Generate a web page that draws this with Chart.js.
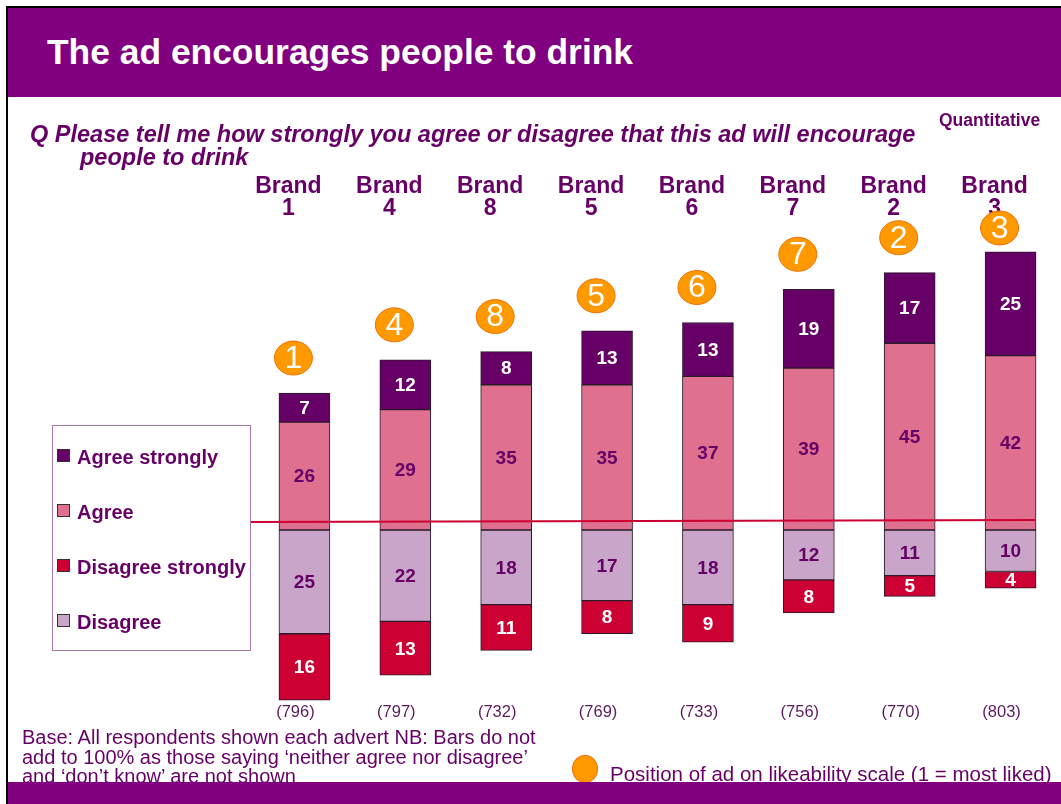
<!DOCTYPE html>
<html>
<head>
<meta charset="utf-8">
<script src="https://cdn.jsdelivr.net/npm/chart.js@4.4.0/dist/chart.umd.min.js"></script>
<style>
body { margin: 0; background: #fff; font-family: "Liberation Sans", Arial, sans-serif; }
#page { position: relative; width: 1061px; height: 804px; overflow: hidden; background: #fff; }
#frameTop { position: absolute; left: 6px; top: 6px; right: 0; height: 2px; background: #000; }
#frameLeft { position: absolute; left: 6px; top: 6px; width: 2px; bottom: 0; background: #000; }
#header { position: absolute; left: 8px; top: 8px; right: 0; height: 89px; background: #800080; }
#header h1 { margin: 0; position: absolute; left: 39px; top: 23px; color: #fff; font-size: 35.4px; font-weight: bold; line-height: 42px; }
#question { position: absolute; left: 30px; top: 123px; color: #660066; font-size: 23.5px; font-weight: bold; font-style: italic; line-height: 23px; white-space: nowrap; }
#question span { display: block; padding-left: 50px; }
#quant { position: absolute; left: 939px; top: 110px; color: #660066; font-size: 17.5px; font-weight: bold; }
#legend { position: absolute; left: 52px; top: 425px; width: 197px; height: 224px; border: 1px solid #a878a8; }
.item { position: absolute; left: 4px; color: #660066; font-size: 20px; font-weight: bold; line-height: 22px; white-space: nowrap; }
.item i { display: inline-block; width: 11px; height: 11px; border: 1px solid #333; margin-right: 7px; vertical-align: 2px; }
#note { position: absolute; left: 22px; top: 728px; color: #660066; font-size: 20px; line-height: 19.5px; white-space: nowrap; }
#key { position: absolute; left: 610px; top: 762px; color: #660066; font-size: 20.5px; white-space: nowrap; }
#keyDot { position: absolute; left: 572px; top: 755px; width: 26px; height: 28px; border-radius: 50%; background: #ff9900; border: 1px solid #f07000; box-sizing: border-box; }
#footer { position: absolute; left: 8px; top: 782px; right: 0; bottom: 0; background: #800080; }
canvas { position: absolute; left: 0; top: 0; }
</style>
</head>
<body>
<div id="page">
  <canvas id="chart" width="1061" height="804"></canvas>
  <div id="header"><h1>The ad encourages people to drink</h1></div>
  <div id="frameTop"></div>
  <div id="frameLeft"></div>
  <div id="quant">Quantitative</div>
  <div id="question">Q Please tell me how strongly you agree or disagree that this ad will encourage<span>people to drink</span></div>
  <div id="legend">
    <div class="item" style="top:20px"><i style="background:#660066"></i>Agree strongly</div>
    <div class="item" style="top:75px"><i style="background:#e07090"></i>Agree</div>
    <div class="item" style="top:130px"><i style="background:#cc0033"></i>Disagree strongly</div>
    <div class="item" style="top:185px"><i style="background:#c9a6c9"></i>Disagree</div>
  </div>
  <div id="note">Base: All respondents shown each advert NB: Bars do not<br>add to 100% as those saying ‘neither agree nor disagree’<br>and ‘don’t know’ are not shown</div>
  <div id="keyDot"></div>
  <div id="key">Position of ad on likeability scale (1 = most liked)</div>
  <div id="footer"></div>
</div>
<script>
// brands in the order shown, left to right
const brands = ["1", "4", "8", "5", "6", "7", "2", "3"];
const agreeStrongly = [7, 12, 8, 13, 13, 19, 17, 25];
const agree = [26, 29, 35, 35, 37, 39, 45, 42];
const disagree = [25, 22, 18, 17, 18, 12, 11, 10];
const disagreeStrongly = [16, 13, 11, 8, 9, 8, 5, 4];
const bases = [796, 797, 732, 769, 733, 756, 770, 803];
const likeRank = [1, 4, 8, 5, 6, 7, 2, 3];
// red reference line, value at left and right end
const refLine = [1.9, 2.3];

const purple = "#660066";

const decorations = {
    id: "decorations",
    afterDatasetsDraw(chart) {
        const ctx = chart.ctx;
        const x = chart.scales.x;
        const y = chart.scales.y;
        const area = chart.chartArea;
        ctx.save();

        // value inside each segment
        ctx.textAlign = "center";
        ctx.textBaseline = "middle";
        chart.data.datasets.forEach((ds, d) => {
            chart.getDatasetMeta(d).data.forEach((bar, i) => {
                ctx.font = "bold 19px 'Liberation Sans', Arial";
                ctx.fillStyle = ds.labelColor;
                ctx.fillText(Math.abs(ds.data[i]), bar.x, (bar.y + bar.base) / 2 + 1);
            });
        });

        // thin red line drawn across the bars
        ctx.strokeStyle = "#cc0033";
        ctx.lineWidth = 2;
        ctx.beginPath();
        ctx.moveTo(area.left - 4, Math.round(y.getPixelForValue(refLine[0])));
        ctx.lineTo(area.right - 26, Math.round(y.getPixelForValue(refLine[1])));
        ctx.stroke();

        brands.forEach((b, i) => {
            const cx = x.getPixelForValue(i);

            // brand name above
            ctx.fillStyle = purple;
            ctx.font = "bold 23px 'Liberation Sans', Arial";
            ctx.fillText("Brand", cx - 16, 187);
            ctx.fillText(b, cx - 16, 209);

            // likeability rank bubble
            const top = y.getPixelForValue(agree[i] + agreeStrongly[i]);
            const cy = Math.max(top - 35, 228);
            ctx.beginPath();
            ctx.ellipse(cx - 11, cy, 19, 17, 0, 0, Math.PI * 2);
            ctx.fillStyle = "#ff9900";
            ctx.fill();
            ctx.strokeStyle = "#f07000";
            ctx.lineWidth = 1;
            ctx.stroke();
            ctx.fillStyle = "#fff";
            ctx.font = "32px 'Liberation Sans', Arial";
            ctx.fillText(likeRank[i], cx - 11, cy + 1);

            // base size below
            ctx.fillStyle = "#5c1a5c";
            ctx.font = "16.5px 'Liberation Sans', Arial";
            ctx.fillText("(" + bases[i] + ")", cx - 9, 712);
        });
        ctx.restore();
    }
};

new Chart(document.getElementById("chart"), {
    type: "bar",
    data: {
        labels: brands.map(b => "Brand " + b),
        datasets: [
            { label: "Agree", data: agree, backgroundColor: "#e07090", labelColor: purple },
            { label: "Agree strongly", data: agreeStrongly, backgroundColor: "#660066", labelColor: "#fff" },
            { label: "Disagree", data: disagree.map(v => -v), backgroundColor: "#c9a6c9", labelColor: purple },
            { label: "Disagree strongly", data: disagreeStrongly.map(v => -v), backgroundColor: "#cc0033", labelColor: "#fff" }
        ]
    },
    options: {
        responsive: false,
        animation: false,
        layout: { padding: { left: 254, right: 0, top: 239.5, bottom: 87.25 } },
        datasets: {
            bar: {
                barThickness: 51,
                borderWidth: 1,
                borderColor: "#2a1a2a",
                borderSkipped: false
            }
        },
        scales: {
            x: { stacked: true, display: false },
            y: { stacked: true, display: false, min: -45, max: 70 }
        },
        plugins: {
            legend: { display: false },
            tooltip: { enabled: false }
        }
    },
    plugins: [decorations]
});
</script>
</body>
</html>
